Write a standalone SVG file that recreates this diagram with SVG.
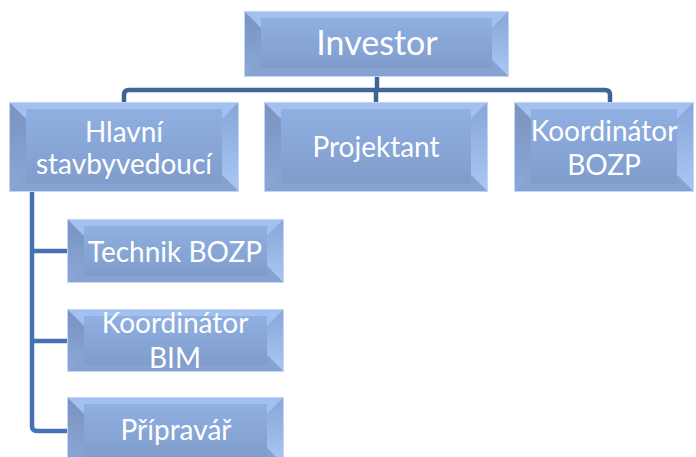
<svg xmlns="http://www.w3.org/2000/svg" width="696" height="457" viewBox="0 0 696 457">
  <defs>
    <linearGradient id="face" x1="0" y1="0" x2="0" y2="1">
      <stop offset="0" stop-color="#90b0e2"/>
      <stop offset="1" stop-color="#7f9ccb"/>
    </linearGradient>
    <linearGradient id="leftFacet" x1="0" y1="0" x2="0" y2="1">
      <stop offset="0" stop-color="#7a93bf"/>
      <stop offset="1" stop-color="#8ba8d8"/>
    </linearGradient>
    <linearGradient id="rightFacet" x1="0" y1="0" x2="0" y2="1">
      <stop offset="0" stop-color="#88a7d9"/>
      <stop offset="1" stop-color="#a8c7f4"/>
    </linearGradient>
    <style>
      .frame { fill: url(#face); stroke: #c2d6f4; stroke-width: 2; }
      .top { fill: #a2c1f1; }
      .left { fill: url(#leftFacet); }
      .right { fill: url(#rightFacet); }
      .bottom { fill: #86a2d0; }
      .core { fill: url(#face); }
      .label { font-family: Lato, "Open Sans", "Liberation Sans", sans-serif; fill: #ffffff; text-anchor: middle; font-size: 28px; }
      .big { font-size: 34px; }
      .line { fill: none; stroke: #3e6498; stroke-width: 4.5; }
      .line2 { fill: none; stroke: #4671b6; stroke-width: 4.5; }
    </style>
  </defs>

  <!-- connectors -->
  <g id="connectors">
    <path class="line" d="M377,76 V90"/>
    <path class="line" d="M124,103 V95 Q124,90 129,90 H605 Q610,90 610,95 V103"/>
    <path class="line" d="M376,90 V103"/>
    <path class="line2" d="M32,191 V426 Q32,431 37,431 H68"/>
    <path class="line2" d="M32,251 H68"/>
    <path class="line2" d="M32,341 H68"/>
  </g>

  <!-- Investor: x245 y12 w263 h64 -->
  <g id="investor">
    <rect class="frame" x="245" y="12" width="263" height="64"/>
    <polygon class="top" points="245,12 508,12 492,28 261,28"/>
    <polygon class="right" points="508,12 508,76 492,60 492,28"/>
    <polygon class="bottom" points="508,76 245,76 261,60 492,60"/>
    <polygon class="left" points="245,76 245,12 261,28 261,60"/>
    <rect class="core" x="261" y="18" width="231" height="50"/>
    <text class="label big" x="377" y="55">Investor</text>
  </g>

  <!-- Hlavní stavbyvedoucí: x10 y103 w228 h88 -->
  <g id="hlavni">
    <rect class="frame" x="10" y="103" width="228" height="88"/>
    <polygon class="top" points="10,103 238,103 222,119 26,119"/>
    <polygon class="right" points="238,103 238,191 222,175 222,119"/>
    <polygon class="bottom" points="238,191 10,191 26,175 222,175"/>
    <polygon class="left" points="10,191 10,103 26,119 26,175"/>
    <rect class="core" x="26" y="109" width="196" height="75"/>
    <text class="label" x="124" y="142">Hlavní</text>
    <text class="label" x="124" y="174">stavbyvedoucí</text>
  </g>

  <!-- Projektant: x265 y103 w222 h88 -->
  <g id="projektant">
    <rect class="frame" x="265" y="103" width="222" height="88"/>
    <polygon class="top" points="265,103 487,103 471,119 281,119"/>
    <polygon class="right" points="487,103 487,191 471,175 471,119"/>
    <polygon class="bottom" points="487,191 265,191 281,175 471,175"/>
    <polygon class="left" points="265,191 265,103 281,119 281,175"/>
    <rect class="core" x="281" y="109" width="190" height="75"/>
    <text class="label" x="376" y="157">Projektant</text>
  </g>

  <!-- Koordinátor BOZP: x515 y103 w178 h88 -->
  <g id="koordinator-bozp">
    <rect class="frame" x="515" y="103" width="178" height="88"/>
    <polygon class="top" points="515,103 693,103 677,119 531,119"/>
    <polygon class="right" points="693,103 693,191 677,175 677,119"/>
    <polygon class="bottom" points="693,191 515,191 531,175 677,175"/>
    <polygon class="left" points="515,191 515,103 531,119 531,175"/>
    <rect class="core" x="531" y="109" width="146" height="75"/>
    <text class="label" x="604" y="141">Koordinátor</text>
    <text class="label" x="604" y="175">BOZP</text>
  </g>

  <!-- Technik BOZP: x68 y220 w215 h62 -->
  <g id="technik-bozp">
    <rect class="frame" x="68" y="220" width="215" height="62"/>
    <polygon class="top" points="68,220 283,220 267,236 84,236"/>
    <polygon class="right" points="283,220 283,282 267,266 267,236"/>
    <polygon class="bottom" points="283,282 68,282 84,266 267,266"/>
    <polygon class="left" points="68,282 68,220 84,236 84,266"/>
    <rect class="core" x="84" y="226" width="183" height="50"/>
    <text class="label" x="175" y="262">Technik BOZP</text>
  </g>

  <!-- Koordinátor BIM: x68 y310 w215 h61 -->
  <g id="koordinator-bim">
    <rect class="frame" x="68" y="310" width="215" height="61"/>
    <polygon class="top" points="68,310 283,310 267,326 84,326"/>
    <polygon class="right" points="283,310 283,371 267,355 267,326"/>
    <polygon class="bottom" points="283,371 68,371 84,355 267,355"/>
    <polygon class="left" points="68,371 68,310 84,326 84,355"/>
    <rect class="core" x="84" y="316" width="183" height="49"/>
    <text class="label" x="175" y="333">Koordinátor</text>
    <text class="label" x="175" y="368">BIM</text>
  </g>

  <!-- Přípravář: x68 y398 w215 h66 (runs past the bottom edge) -->
  <g id="pripravar">
    <rect class="frame" x="68" y="398" width="215" height="66"/>
    <polygon class="top" points="68,398 283,398 267,414 84,414"/>
    <polygon class="right" points="283,398 283,464 267,448 267,414"/>
    <polygon class="bottom" points="283,464 68,464 84,448 267,448"/>
    <polygon class="left" points="68,464 68,398 84,414 84,448"/>
    <rect class="core" x="84" y="404" width="183" height="54"/>
    <text class="label" x="176" y="440">Přípravář</text>
  </g>
</svg>
